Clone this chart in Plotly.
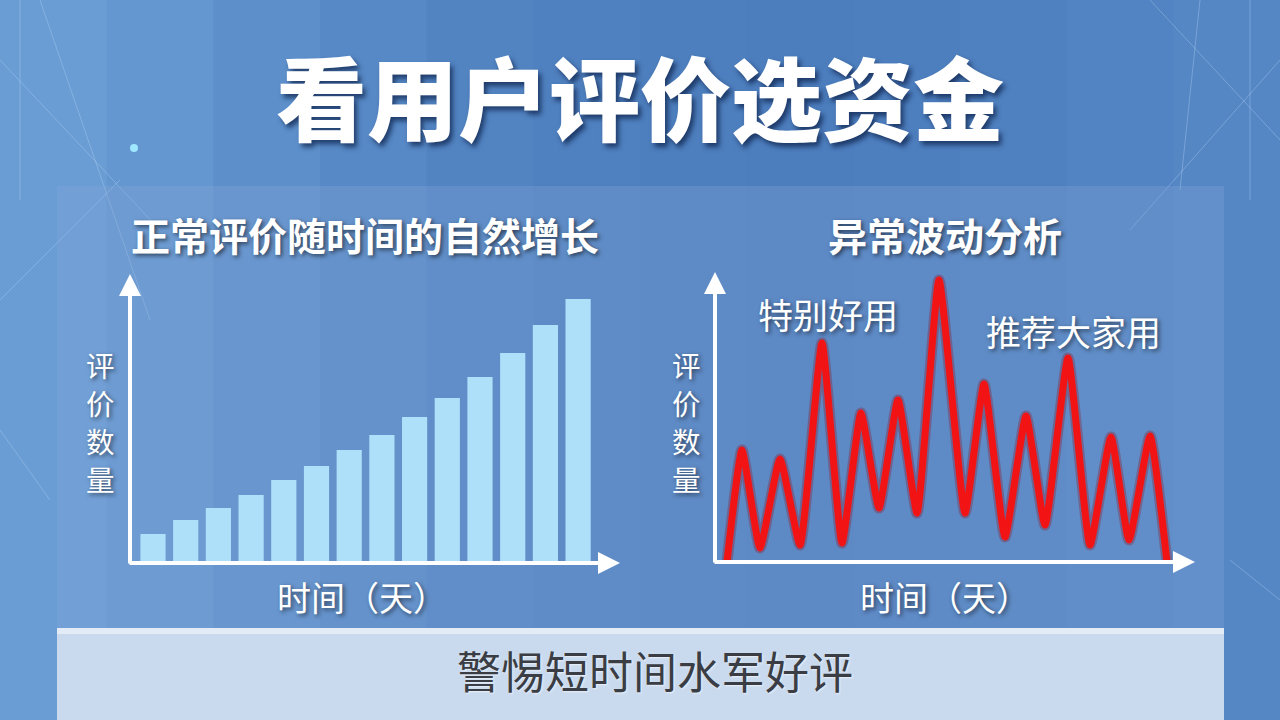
import plotly.graph_objects as go

W, H = 1280, 720
FONT = "Noto Sans CJK SC"

# ---------------- data ----------------
title = "看用户评价选资金"
left_title = "正常评价随时间的自然增长"
right_title = "异常波动分析"
y_label = "评价数量"
x_label = "时间（天）"
footer = "警惕短时间水军好评"
note_1 = "特别好用"
note_2 = "推荐大家用"

bar_days = list(range(1, 15))
bar_counts = [29, 43, 55, 68, 83, 97, 113, 128, 146, 165, 186, 210, 238, 264]

line_days = [0, 0.75, 1.65, 2.65, 3.65, 4.75, 5.75, 6.7, 7.6, 8.55, 9.5, 10.6,
             11.9, 12.85, 13.9, 14.95, 15.9, 17.05, 18.15, 19.2, 20.1, 21.15, 22]
line_counts = [0, 112, 14, 103, 17, 219, 19, 149, 54, 162, 49, 282,
               49, 178, 25, 146, 37, 204, 17, 125, 22, 126, 0]

# ---------------- helpers ----------------
def px_x(p):
    return p / W

def px_y(p):
    return 1 - p / H

fig = go.Figure()

fig.add_trace(go.Bar(
    x=bar_days, y=bar_counts, width=0.77,
    marker=dict(color="#afe0fa", line=dict(width=0)),
    xaxis="x", yaxis="y", hoverinfo="skip", showlegend=False,
))

# soft glow under red line
fig.add_trace(go.Scatter(
    x=line_days, y=line_counts, mode="lines",
    line=dict(color="rgba(150,10,20,0.30)", width=11, shape="spline", smoothing=0.45),
    xaxis="x2", yaxis="y2", hoverinfo="skip", showlegend=False,
))
fig.add_trace(go.Scatter(
    x=line_days, y=line_counts, mode="lines",
    line=dict(color="#f21414", width=7, shape="spline", smoothing=0.45),
    xaxis="x2", yaxis="y2", hoverinfo="skip", showlegend=False,
))

# ---------------- background ----------------
shapes = []
bg_cols = ["#6a9dd4", "#6497d0", "#5d90cb", "#5789c6", "#5284c2", "#4f80bf",
           "#4d7ebd", "#4c7dbd", "#4d7ebe", "#4f80bf", "#5283c2", "#5587c5"]
n = len(bg_cols)
for i, c in enumerate(bg_cols):
    shapes.append(dict(type="rect", xref="paper", yref="paper",
                       x0=i / n, x1=(i + 1) / n + 0.002, y0=0, y1=1,
                       fillcolor=c, line=dict(width=0), layer="below"))
deco = [((0, 60), (160, 230)), ((40, 0), (150, 320)), ((0, 300), (120, 180)),
        ((1150, 0), (1280, 140)), ((1280, 60), (1130, 230)), ((1200, 0), (1180, 190)),
        ((0, 430), (50, 500)), ((1230, 560), (1280, 600)), ((20, 0), (20, 200)),
        ((1250, 0), (1250, 200))]
for (a, b) in deco:
    shapes.append(dict(type="line", xref="paper", yref="paper",
                       x0=px_x(a[0]), y0=px_y(a[1]), x1=px_x(b[0]), y1=px_y(b[1]),
                       line=dict(color="rgba(190,215,245,0.35)", width=1), layer="below"))
shapes.append(dict(type="circle", xref="paper", yref="paper",
                   x0=px_x(130), x1=px_x(138), y0=px_y(152), y1=px_y(144),
                   fillcolor="#9fe6ff", line=dict(width=0), layer="below"))

# main panel
shapes.append(dict(type="rect", xref="paper", yref="paper",
                   x0=px_x(57), x1=px_x(1224), y0=px_y(628), y1=px_y(186),
                   fillcolor="rgba(130,165,215,0.32)", line=dict(width=0), layer="below"))
# bottom band
shapes.append(dict(type="rect", xref="paper", yref="paper",
                   x0=px_x(57), x1=px_x(1224), y0=0, y1=px_y(628),
                   fillcolor="#cadaee", line=dict(width=0), layer="below"))
shapes.append(dict(type="rect", xref="paper", yref="paper",
                   x0=px_x(57), x1=px_x(1224), y0=px_y(634), y1=px_y(628),
                   fillcolor="rgba(255,255,255,0.45)", line=dict(width=0), layer="below"))

annotations = []

def arrow(x0, y0, x1, y1):
    annotations.append(dict(
        x=px_x(x1), y=px_y(y1), xref="paper", yref="paper",
        ax=x0 - x1, ay=y0 - y1, axref="pixel", ayref="pixel",
        showarrow=True, arrowhead=2, arrowsize=1.1, arrowwidth=4,
        arrowcolor="white", text=""))

arrow(130, 565, 130, 274)
arrow(128, 563, 620, 563)
arrow(715, 564, 715, 272)
arrow(713, 562, 1195, 562)

shadow = "2px 2px 4px rgba(0,0,0,0.55)"

def text(t, x, y, size, color="white", weight="normal", sh=shadow):
    annotations.append(dict(
        text=t, x=px_x(x), y=px_y(y), xref="paper", yref="paper",
        showarrow=False, xanchor="center", yanchor="middle",
        font=dict(family=FONT, size=size, color=color, weight=weight, shadow=sh)))

text(title, 640, 94, 91, weight=900, sh="3px 4px 5px rgba(10,30,70,0.7)")
text(left_title, 365, 234, 39, weight="bold")
text(right_title, 945, 234, 39, weight="bold")
for k, ch in enumerate(y_label):
    text(ch, 100, 364 + 38 * k, 28.5)
    text(ch, 686, 364 + 38 * k, 28.5)
text(x_label, 362, 596, 34)
text(x_label, 945, 596, 34)
text(note_1, 828, 313, 35)
text(note_2, 1073, 331, 35)
text(footer, 655, 670, 44, color="#3a3d44", sh="1px 1px 2px rgba(255,255,255,0.6)")

# ---------------- axes ----------------
bx0, bx1 = 130, 617
by0, by1 = 563, 275
spacing = 32.7
first_center = 153
xr0 = 1 - (first_center - bx0) / spacing
xr1 = xr0 + (bx1 - bx0) / spacing

rx0, rx1 = 715, 1193
ry0, ry1 = 562, 273
rx_scale = 20.0
rxr0 = (rx0 - 727) / rx_scale
rxr1 = (rx1 - 727) / rx_scale

hidden = dict(showgrid=False, zeroline=False, showticklabels=False, showline=False, ticks="")

fig.update_layout(
    width=W, height=H,
    margin=dict(l=0, r=0, t=0, b=0),
    paper_bgcolor="#4f80bf", plot_bgcolor="rgba(0,0,0,0)",
    xaxis=dict(domain=[px_x(bx0), px_x(bx1)], range=[xr0, xr1], **hidden),
    yaxis=dict(domain=[px_y(by0), px_y(by1)], range=[0, by0 - by1], anchor="x", **hidden),
    xaxis2=dict(domain=[px_x(rx0), px_x(rx1)], range=[rxr0, rxr1], anchor="y2", **hidden),
    yaxis2=dict(domain=[px_y(ry0), px_y(ry1)], range=[0, ry0 - ry1], anchor="x2", **hidden),
    shapes=shapes, annotations=annotations,
    bargap=0.2, showlegend=False,
)

fig.write_html("out.html", config={"displayModeBar": False},
               post_script="document.body.style.margin='0';document.body.style.overflow='hidden';")
